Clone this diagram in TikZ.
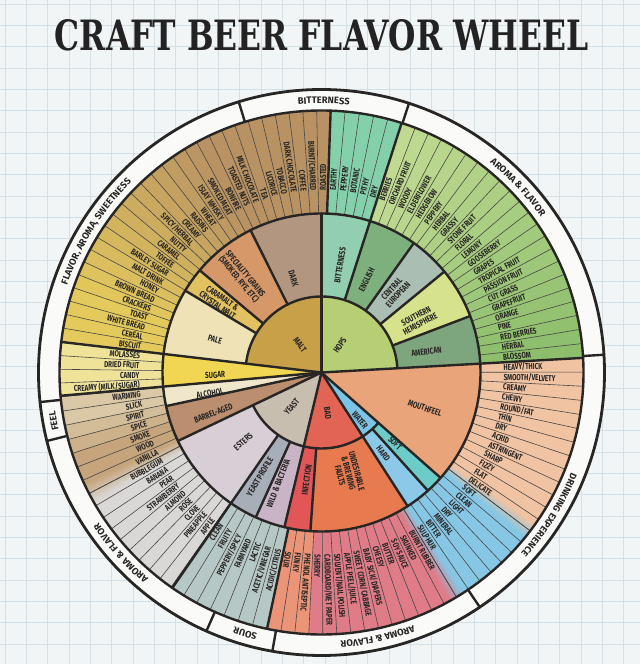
\documentclass[tikz,border=0pt]{standalone}
\usepackage{fontspec}
\usepackage{graphicx}
\setmainfont{Fira Sans}
\newfontfamily\labfont{Fira Sans}[FakeStretch=0.74]
\newfontfamily\ringfont{Fira Sans}[FakeStretch=1.0]
\newfontfamily\titlefont{DejaVu Serif Condensed}
\usetikzlibrary{decorations.text}

\definecolor{bg}{RGB}{241,245,246}
\definecolor{gridc}{RGB}{212,224,230}
\definecolor{ink}{RGB}{40,38,36}
\definecolor{titlec}{RGB}{35,35,35}
\definecolor{ringw}{RGB}{250,250,249}
\definecolor{maltc}{RGB}{200,160,72}
\definecolor{hopsc}{RGB}{182,206,116}
\definecolor{darkc}{RGB}{178,150,128}
\definecolor{specc}{RGB}{214,152,104}
\definecolor{caramc}{RGB}{226,194,96}
\definecolor{palec}{RGB}{238,226,182}
\definecolor{sugarc}{RGB}{240,214,82}
\definecolor{alcc}{RGB}{239,230,204}
\definecolor{barrelc}{RGB}{186,142,110}
\definecolor{yeastc}{RGB}{200,190,176}
\definecolor{estersc}{RGB}{216,206,214}
\definecolor{yprofc}{RGB}{168,174,184}
\definecolor{wildc}{RGB}{200,180,196}
\definecolor{infc}{RGB}{226,86,88}
\definecolor{badc}{RGB}{226,100,84}
\definecolor{undc}{RGB}{232,122,80}
\definecolor{waterc}{RGB}{124,196,230}
\definecolor{softc}{RGB}{108,204,200}
\definecolor{hardc}{RGB}{140,200,232}
\definecolor{mfc}{RGB}{234,164,122}
\definecolor{bitc}{RGB}{146,206,176}
\definecolor{engc}{RGB}{126,176,126}
\definecolor{cenc}{RGB}{170,190,180}
\definecolor{souc}{RGB}{214,226,140}
\definecolor{amc}{RGB}{126,166,126}
\definecolor{hA}{RGB}{140,190,108}
\definecolor{hB}{RGB}{192,218,146}
\definecolor{bito}{RGB}{132,208,170}
\definecolor{maltA}{RGB}{184,146,98}
\definecolor{maltB}{RGB}{228,202,92}
\definecolor{sugo}{RGB}{239,227,154}
\definecolor{tanA}{RGB}{218,200,166}
\definecolor{tanB}{RGB}{198,165,124}
\definecolor{esto}{RGB}{217,216,214}
\definecolor{yo}{RGB}{182,200,198}
\definecolor{salm}{RGB}{235,148,120}
\definecolor{pinko}{RGB}{224,124,136}
\definecolor{wo}{RGB}{134,199,230}
\definecolor{mfo}{RGB}{240,195,163}

\newcommand\wdg[5]{\fill[#5] (#1:#4pt) arc[start angle=#1, end angle=#2, radius=#4pt] -- (#2:#3pt) arc[start angle=#2, end angle=#1, radius=#3pt] -- cycle;}

% start, end, n, colA, colB, k0, k1
\newcommand\outfill[7]{%
  \foreach \k in {1,...,#3}{%
    \pgfmathsetmacro\angA{#1+(#2-#1)*(\k-1)/#3}%
    \pgfmathsetmacro\angB{#1+(#2-#1)*\k/#3+0.05}%
    \pgfmathtruncatemacro\pp{100*min(1,max(0,(\k-1-#6)/(#7-#6)))}%
    \fill[fill={#5!\pp!#4}] (\angA:159pt) arc[start angle=\angA, end angle=\angB, radius=159pt] -- (\angB:262pt) arc[start angle=\angB, end angle=\angA, radius=262pt] -- cycle;
  }}
% soft colour transition: angle, half width, colour below, colour above
\newcommand\blend[4]{%
  \foreach \j in {0,...,9}{%
    \pgfmathsetmacro\angA{#1-#2+#2*\j/5}%
    \pgfmathsetmacro\angB{#1-#2+#2*(\j+1)/5+0.05}%
    \pgfmathtruncatemacro\pp{10*\j+5}%
    \fill[fill={#4!\pp!#3}] (\angA:160pt) arc[start angle=\angA, end angle=\angB, radius=160pt] -- (\angB:261pt) arc[start angle=\angB, end angle=\angA, radius=261pt] -- cycle;
  }}
\newcommand\outlines[3]{%
  \foreach \k in {0,...,#3}{%
    \pgfmathsetmacro\angA{#1+(#2-#1)*\k/#3}%
    \draw[fine] (\angA:159pt) -- (\angA:262pt);
  }}
% start, end, n, dir(1 out / 0 in), name, list
\newcommand\outlabels[6]{%
  \foreach \lbl [count=\k from 0] in {#6}{%
    \pgfmathsetmacro\angM{#1+(#2-#1)*(\k+0.5)/#3}%
    \ifnum#4=1
      \node[lab, rotate=\angM, anchor=west] (#5-\k) at (\angM:182pt) {\lbl};
    \else
      \node[lab, rotate=\angM+180, anchor=east] (#5-\k) at (\angM:182pt) {\lbl};
    \fi
  }}
\newcommand\ringlabel[3]{\path[decorate, decoration={text along path, text align=center, text={|\ringfont\bfseries\fontsize{9.4}{10}\selectfont\color{ink}|#3}}] (#1:269pt) arc[start angle=#1, end angle=#2, radius=269pt];}

\begin{document}
\begin{tikzpicture}[x=1pt,y=1pt,
  lab/.style={font=\labfont\bfseries\fontsize{8.6}{9}\selectfont, inner sep=0pt, text=ink},
  mid/.style={font=\labfont\bfseries\fontsize{8.8}{8.6}\selectfont, inner sep=0pt, text=ink, align=center},
  fine/.style={draw=ink!85, line width=0.6pt},
  heavy/.style={draw=ink, line width=2.4pt, line cap=round}]
\useasboundingbox (0,0) rectangle (640,664);
\fill[bg] (0,0) rectangle (640,664);
\foreach \i in {0,...,30}{\draw[gridc, line width=0.6pt] ({5+21.333*\i},0) -- ({5+21.333*\i},664);}
\foreach \i in {0,...,31}{\draw[gridc, line width=0.6pt] (0,{660-21.333*\i}) -- (640,{660-21.333*\i});}

\node[anchor=base, inner sep=0pt, text=titlec] (title) at (321.5,613) {\resizebox{533pt}{31pt}{\titlefont\bfseries CRAFT BEER FLAVOR WHEEL}};

\begin{scope}[shift={(321.5,291.5)}]
\coordinate (O) at (0,0);
\fill[ringw] (O) circle[radius=283pt];

% outer ring fills
\outfill{3.2}{72.2}{22}{hA}{hB}{0}{21}
\outfill{72.2}{88}{5}{bito}{bito}{0}{1}
\outfill{88}{173.3}{28}{maltA}{maltB}{9}{24}
\outfill{173.3}{185.3}{4}{sugo}{sugo}{0}{1}
\outfill{185.3}{207.5}{7}{tanA}{tanB}{1}{4}
\outfill{207.5}{235}{9}{esto}{esto}{0}{1}
\outfill{235}{258}{7}{yo}{yo}{0}{1}
\outfill{258}{301}{14}{salm}{pinko}{2}{3}
\outfill{301}{322.8}{7}{wo}{wo}{0}{1}
\outfill{322.8}{363.2}{13}{mfo}{mfo}{0}{1}
\blend{207.5}{2.2}{tanB}{esto}
\blend{301}{1.8}{pinko}{wo}
\blend{322.8}{1.8}{wo}{mfo}

% inner and middle fills
\wdg{90}{173.3}{0.1}{76}{maltc}
\wdg{3.2}{90}{0.1}{76}{hopsc}
\wdg{205.5}{256.5}{0.1}{76}{yeastc}
\wdg{256.5}{302.8}{0.1}{76}{badc}
\wdg{302.8}{318.5}{0.1}{76}{waterc}
\wdg{318.5}{363.2}{0.1}{159}{mfc}
\wdg{173.3}{185.1}{0.1}{159}{sugarc}
\wdg{185.1}{192.2}{0.1}{159}{alcc}
\wdg{192.2}{205.5}{0.1}{159}{barrelc}
\wdg{90}{116.5}{76}{159}{darkc}
\wdg{116.5}{140}{76}{159}{specc}
\wdg{140}{149}{76}{159}{caramc}
\wdg{149}{173.3}{76}{159}{palec}
\wdg{72}{90}{76}{159}{bitc}
\wdg{54.5}{72}{76}{159}{engc}
\wdg{39.4}{54.5}{76}{159}{cenc}
\wdg{20.8}{39.4}{76}{159}{souc}
\wdg{3.2}{20.8}{76}{159}{amc}
\wdg{205.5}{235.4}{76}{159}{estersc}
\wdg{235.4}{245.6}{76}{159}{yprofc}
\wdg{245.6}{256.5}{76}{159}{wildc}
\wdg{256.5}{266}{76}{159}{infc}
\wdg{266}{302.8}{76}{159}{undc}
\wdg{302.8}{312}{76}{159}{hardc}
\wdg{312}{318.5}{76}{159}{softc}

% thin separators
\outlines{3.2}{72.2}{22}
\outlines{72.2}{88}{5}
\outlines{88}{173.3}{28}
\outlines{173.3}{185.3}{4}
\outlines{185.3}{207.5}{7}
\outlines{207.5}{235}{9}
\outlines{235}{258}{7}
\outlines{258}{301}{14}
\outlines{301}{322.8}{7}
\outlines{322.8}{363.2}{13}

% heavy lines
\foreach \a/\ra/\rb in {3.2/0pt/262pt, 173.3/0pt/262pt, 185.1/0pt/262pt,
  90/0pt/159pt, 192.2/0pt/159pt, 205.5/0pt/159pt, 256.5/0pt/159pt, 302.8/0pt/159pt, 318.5/0pt/159pt,
  72.2/76pt/262pt, 235.3/76pt/262pt, 88/159pt/262pt, 258/159pt/262pt,
  116.5/76pt/159pt, 140/76pt/159pt, 149/76pt/159pt, 54.5/76pt/159pt, 39.4/76pt/159pt, 20.8/76pt/159pt,
  245.6/76pt/159pt, 266/76pt/159pt, 312/76pt/159pt,
  72/262pt/283pt, 107/262pt/283pt, 3.6/262pt/283pt, 304/262pt/283pt, 246/262pt/283pt, 260/262pt/283pt, 186/262pt/283pt, 194/262pt/283pt}
  {\draw[heavy] (\a:\ra) -- (\a:\rb);}
\draw[heavy] (3.2:76pt) arc[start angle=3.2, end angle=173.3, radius=76pt];
\draw[heavy] (205.5:76pt) arc[start angle=205.5, end angle=318.5, radius=76pt];
\draw[heavy] (O) circle[radius=159pt];
\draw[heavy] (O) circle[radius=262pt];
\draw[heavy, line width=2.8pt] (O) circle[radius=283pt];

% outer labels
\outlabels{3.2}{72.2}{22}{1}{ha}{BLOSSOM, HERBAL, RED BERRIES, PINE, ORANGE, GRAPEFRUIT, CUT GRASS, PASSION FRUIT, TROPICAL FRUIT, GRAPES, GOOSEBERRY, LEMONY, FLORAL, STONE FRUIT, GRASSY, HERBAL, PEPPERY, HEDGEROW, ELDERFLOWER, WOODY, ORCHARD FRUIT, BERRIES}
\outlabels{72.2}{88}{5}{1}{hb}{DRY, PITHY, BOTANIC, PEPPERY, EARTHY}
\outlabels{88}{91.05}{1}{1}{ma}{ROASTED}
\outlabels{91.05}{173.3}{27}{0}{mb}{BURNT/CHARRED, COFFEE, DARK CHOCOLATE, TOBACCO, LICORICE, TEA, MILK CHOCOLATE, TOASTED NUTS, BONFIRE, SMOKED MEAT, ISLAY WHISKY, WHEAT, RAISINS, CREAMY, SPICY/HERBAL, NUTTY, CARAMEL, TOFFEE, BARLEY SUGAR, MALT DRINK, HONEY, BROWN BREAD, CRACKERS, TOAST, WHITE BREAD, CEREAL, BISCUIT}
\outlabels{173.3}{185.3}{4}{0}{su}{MOLASSES, DRIED FRUIT, CANDY, CREAMY (MILK/SUGAR)}
\outlabels{185.3}{207.5}{7}{0}{ta}{WARMING, SLICK, SPIRIT, SPICE, SMOKE, WOOD, VANILLA}
\outlabels{207.5}{235}{9}{0}{es}{BUBBLEGUM, BANANA, PEAR, STRAWBERRY, ALMOND, ROSE, CLOVE, PINEAPPLE, APPLE}
\outlabels{235}{258}{7}{0}{yp}{CLEAN, FRUITY, PEPPERY/SPICY, FARMYARD, LACTIC, ACETIC/VINEGAR, ACIDIC/CITRUS}
\outlabels{258}{301}{14}{1}{bd}{SOUR, FUNKY, PHENOL ANTISEPTIC, SHERRY, CARDBOARD/WET PAPER, SOLVENT/NAIL POLISH, APPLE PEEL/JUICE, SWEET CORN/CABBAGE, BABY SICK/DIAPERS, CHEESY, BUTTER, SOY SAUCE, SKUNKED, BURNT RUBBER}
\outlabels{301}{322.8}{7}{1}{wa}{SULPHUR, BITTER, MINERAL, DRY, LIGHT, CLEAN, SOFT}
\outlabels{322.8}{363.2}{13}{1}{mf}{DELICATE, FLAT, FIZZY, SHARP, ASTRINGENT, ACRID, DRY, THIN, ROUND/FAT, CHEWY, CREAMY, SMOOTH/VELVETY, HEAVY/THICK}

% middle and inner labels
\node[mid, rotate=-52] (malt) at (128:35pt) {MALT};
\node[mid, rotate=56] (hops) at (56:33pt) {HOPS};
\node[mid, rotate=-73.3] (dark) at (106.7:98pt) {DARK};
\node[mid, rotate=-50.2] (spec) at (129.8:124.7pt) {SPECIALITY GRAINS\\(SMOKED, RYE, ETC)};
\node[mid, rotate=-34.9] (caram) at (145.1:123.8pt) {CARAMALT \&\\CRYSTAL MALT};
\node[mid, rotate=-17] (pale) at (163:111.4pt) {PALE};
\node[mid, rotate=1.3] (sugar) at (181.3:106.5pt) {SUGAR};
\node[mid, rotate=10.6] (alc) at (190.6:113.4pt) {ALCOHOL};
\node[mid, rotate=20.7] (barrel) at (200.7:115.6pt) {BARREL-AGED};
\node[mid, rotate=49] (yeast) at (229:45.4pt) {YEAST};
\node[mid, rotate=41.5] (esters) at (221.5:104.5pt) {ESTERS};
\node[mid, rotate=59.4] (yprof) at (239.4:121pt) {YEAST PROFILE};
\node[mid, rotate=68.7] (wild) at (248.7:118.9pt) {WILD \& BACTERIA};
\node[mid, rotate=82.2] (inf) at (262.2:108.5pt) {INFECTION};
\node[mid, rotate=-81.4] (bad) at (278.6:41.3pt) {BAD};
\node[mid, rotate=-75] (und) at (285:104.3pt) {UNDESIRABLE\\\& BREWING\\FAULTS};
\node[mid, rotate=-51] (water) at (-51:61.1pt) {WATER};
\node[mid, rotate=-43.9] (soft) at (-43.9:102pt) {SOFT};
\node[mid, rotate=-52.6] (hard) at (-52.6:101.7pt) {HARD};
\node[mid, rotate=-19.1] (mouth) at (-19.1:109.5pt) {MOUTHFEEL};
\node[mid, rotate=80.2] (bitt) at (80.2:109pt) {BITTERNESS};
\node[mid, rotate=64] (eng) at (64:103pt) {ENGLISH};
\node[mid, rotate=47.7] (cen) at (47.7:109pt) {CENTRAL\\EUROPEAN};
\node[mid, rotate=28.5] (sou) at (28.5:110pt) {SOUTHERN\\HEMISPHERE};
\node[mid, rotate=8] (amer) at (11.2:107pt) {AMERICAN};

% ring labels
\ringlabel{106}{73}{BITTERNESS}
\ringlabel{72}{14.6}{AROMA {\&} FLAVOR}
\ringlabel{2}{-66}{DRINKING EXPERIENCE}
\ringlabel{303}{261}{AROMA {\&} FLAVOR}
\ringlabel{259.5}{247.9}{SOUR}
\ringlabel{245}{199}{AROMA {\&} FLAVOR}
\ringlabel{193.8}{186.6}{FEEL}
\ringlabel{185}{111}{FLAVOR, AROMA, SWEETNESS}
\end{scope}
\end{tikzpicture}
\end{document}
